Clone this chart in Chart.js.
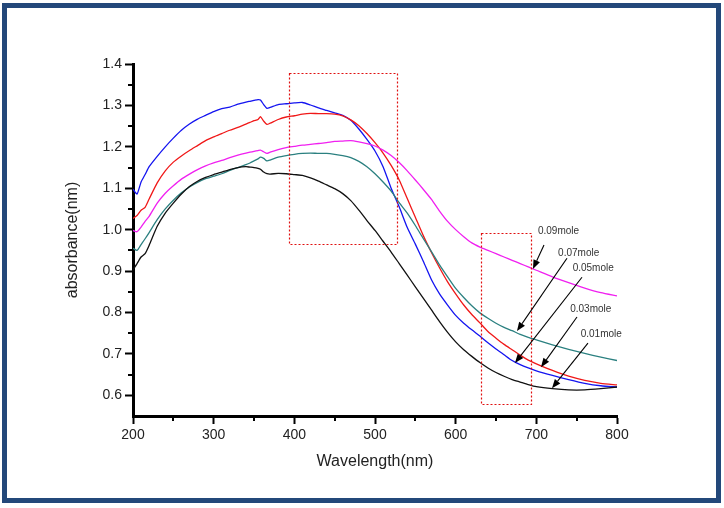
<!DOCTYPE html>
<html><head><meta charset="utf-8">
<script src="https://cdn.jsdelivr.net/npm/chart.js@4/dist/chart.umd.min.js"></script>
<style>
html,body{margin:0;padding:0;background:#fff;}
#wrap{position:relative;width:724px;height:508px;overflow:hidden;}
#frame{position:absolute;left:2px;top:3px;width:719px;height:500px;box-sizing:border-box;border:5px solid #23487a;pointer-events:none;}
canvas{position:absolute;left:0;top:0;}
</style></head><body>
<div id="wrap"><canvas id="c" width="724" height="508"></canvas><div id="frame"></div></div>
<script>
// ---- data ----
const wavelengths = [200,205,210,215,220,230,240,250,260,270,280,290,300,310,320,330,340,345,350,355,358,362,366,
  370,380,390,400,410,420,430,440,450,460,470,480,490,500,510,520,530,540,550,560,570,580,590,600,610,620,630,640,650,660,670,680,690,700,
  720,740,760,780,800];
const mole005 = [1.098,1.086,1.115,1.133,1.152,1.177,1.200,1.221,1.240,1.255,1.267,1.276,1.285,1.292,1.296,1.303,1.308,1.310,1.312,1.314,1.313,1.302,1.293,
  1.295,1.302,1.304,1.306,1.307,1.301,1.294,1.288,1.282,1.276,
  1.264,1.243,1.218,1.190,1.152,1.100,1.055,1.005,0.965,0.923,
  0.879,0.845,0.818,0.793,0.774,0.758,0.743,0.727,0.712,0.698,
  0.684,0.674,0.666,0.659,
  0.648,0.638,0.629,0.623,0.620];
const mole003 = [1.027,1.034,1.047,1.054,1.074,1.113,1.142,1.163,1.178,1.191,1.203,1.215,1.224,1.232,1.240,1.247,1.255,1.259,1.263,1.266,1.273,1.262,1.254,
  1.257,1.266,1.272,1.275,1.279,1.281,1.280,1.280,1.279,1.275,
  1.265,1.251,1.232,1.210,1.185,1.155,1.120,1.075,1.030,0.985,
  0.945,0.908,0.874,0.845,0.818,0.795,0.775,0.754,0.738,0.723,
  0.710,0.697,0.685,0.676,
  0.660,0.646,0.636,0.629,0.625];
const mole009 = [0.998,0.995,1.006,1.020,1.032,1.064,1.088,1.106,1.122,1.134,1.145,1.154,1.161,1.167,1.174,1.180,1.185,1.187,1.189,1.191,1.192,1.188,1.184,
  1.187,1.193,1.198,1.201,1.204,1.206,1.208,1.210,1.213,1.214,
  1.215,1.212,1.208,1.202,1.192,1.179,1.162,1.142,1.120,1.097,
  1.073,1.045,1.020,1.000,0.983,0.968,0.958,0.950,0.942,0.934,
  0.926,0.918,0.910,0.902,
  0.886,0.872,0.859,0.848,0.840];
const mole007 = [0.955,0.950,0.964,0.978,0.993,1.024,1.050,1.071,1.089,1.103,1.114,1.123,1.129,1.135,1.143,1.150,1.157,1.161,1.166,1.171,1.175,1.172,1.166,
  1.168,1.175,1.179,1.182,1.184,1.185,1.184,1.184,1.182,1.179,
  1.174,1.165,1.152,1.135,1.115,1.093,1.065,1.040,1.010,0.978,
  0.947,0.915,0.886,0.858,0.836,0.816,0.799,0.786,0.774,0.764,
  0.756,0.747,0.740,0.734,
  0.722,0.711,0.701,0.692,0.684];
const mole001 = [0.903,0.918,0.934,0.942,0.962,1.008,1.040,1.064,1.086,1.104,1.117,1.126,1.133,1.139,1.145,1.150,1.152,1.151,1.150,1.148,1.146,1.139,1.135,
  1.134,1.136,1.135,1.133,1.131,1.125,1.117,1.108,1.099,1.087,
  1.070,1.047,1.022,0.998,0.972,0.946,0.918,0.890,0.862,0.834,
  0.806,0.778,0.752,0.729,0.710,0.694,0.679,0.666,0.655,0.646,
  0.638,0.632,0.626,0.621,
  0.616,0.613,0.613,0.616,0.620];

const xTickValues = [200,300,400,500,600,700,800];
const yTickValues = [0.6,0.7,0.8,0.9,1.0,1.1,1.2,1.3,1.4];
const xMinorTicks = [250,350,450,550,650,750];
const yMinorTicks = [0.65,0.75,0.85,0.95,1.05,1.15,1.25,1.35];

// dotted highlight boxes (data coordinates)
const boxX0 = [393,631];
const boxX1 = [527,693];
const boxYLow = [0.965,0.579];
const boxYHigh = [1.378,0.992];

// arrow annotations (data coordinates)
const annoLabels = ['0.09mole','0.07mole','0.05mole','0.03mole','0.01mole'];
const annoTextX = [702,727,745,742,755];
const annoTextY = [0.997,0.943,0.907,0.808,0.748];
const arrowFromX = [709.5,738,756.6,750.4,764];
const arrowFromY = [0.963,0.931,0.885,0.789,0.726];
const arrowToX = [695.8,676,673.5,705.8,719.4];
const arrowToY = [0.905,0.755,0.678,0.668,0.617];

// ---- build ----
const pts = arr => wavelengths.map((w,i)=>({x:w,y:arr[i]}));
const FONT = '"Liberation Sans", Arial, sans-serif';

const overlay = {
  id:'overlay',
  afterDatasetsDraw(chart){
    const {ctx, scales:{x,y}} = chart;
    ctx.save();
    ctx.strokeStyle = '#e01010';
    ctx.lineWidth = 1.2;
    ctx.setLineDash([2,2]);
    for (let i=0;i<boxX0.length;i++){
      const x0 = Math.round(x.getPixelForValue(boxX0[i]))+0.5;
      const x1 = Math.round(x.getPixelForValue(boxX1[i]))+0.5;
      const y0 = Math.round(y.getPixelForValue(boxYHigh[i]))+0.5;
      const y1 = Math.round(y.getPixelForValue(boxYLow[i]))+0.5;
      ctx.strokeRect(x0,y0,x1-x0,y1-y0);
    }
    ctx.setLineDash([]);
    ctx.strokeStyle = '#000';
    ctx.fillStyle = '#000';
    for (let i=0;i<annoLabels.length;i++){
      const fx = x.getPixelForValue(arrowFromX[i]), fy = y.getPixelForValue(arrowFromY[i]);
      const tx = x.getPixelForValue(arrowToX[i]), ty = y.getPixelForValue(arrowToY[i]);
      const ang = Math.atan2(ty-fy, tx-fx);
      const L = 9, W = 3.5;
      const bx = tx - L*Math.cos(ang), by = ty - L*Math.sin(ang);
      ctx.lineWidth = 1.1;
      ctx.beginPath(); ctx.moveTo(fx,fy); ctx.lineTo(bx,by); ctx.stroke();
      ctx.beginPath();
      ctx.moveTo(tx,ty);
      ctx.lineTo(bx + W*Math.sin(ang), by - W*Math.cos(ang));
      ctx.lineTo(bx - W*Math.sin(ang), by + W*Math.cos(ang));
      ctx.closePath(); ctx.fill();
    }
    ctx.fillStyle = '#333';
    ctx.font = '10px ' + FONT;
    ctx.textAlign = 'left';
    ctx.textBaseline = 'middle';
    for (let i=0;i<annoLabels.length;i++){
      ctx.fillText(annoLabels[i], x.getPixelForValue(annoTextX[i]), y.getPixelForValue(annoTextY[i]));
    }
    ctx.restore();
  },
  afterDraw(chart){
    const {ctx, scales:{x,y}, chartArea} = chart;
    ctx.save();
    ctx.strokeStyle = '#000';
    ctx.lineWidth = 2;
    yMinorTicks.forEach(v=>{
      const py = Math.round(y.getPixelForValue(v));
      ctx.beginPath(); ctx.moveTo(chartArea.left-5, py); ctx.lineTo(chartArea.left, py); ctx.stroke();
    });
    xMinorTicks.forEach(v=>{
      const px = Math.round(x.getPixelForValue(v));
      ctx.beginPath(); ctx.moveTo(px, chartArea.bottom); ctx.lineTo(px, chartArea.bottom+5); ctx.stroke();
    });
    ctx.restore();
  }
};

const ds = (label, arr, color) => ({label, data: pts(arr), borderColor: color, backgroundColor: color,
  borderWidth: 1.3, pointRadius: 0, tension: 0.2, fill: false});

new Chart(document.getElementById('c'), {
  type: 'line',
  data: { datasets: [
    ds('0.01mole', mole001, '#111111'),
    ds('0.07mole', mole007, '#2b8080'),
    ds('0.09mole', mole009, '#f020f0'),
    ds('0.03mole', mole003, '#f01818'),
    ds('0.05mole', mole005, '#1414f0')
  ]},
  options: {
    responsive: false,
    devicePixelRatio: 1,
    animation: false,
    layout: { padding: { top: 64, right: 107, left: 0, bottom: 0 } },
    plugins: { legend: { display: false }, tooltip: { enabled: false } },
    scales: {
      x: {
        type: 'linear', min: 200, max: 800,
        afterBuildTicks: s => { s.ticks = xTickValues.map(v=>({value:v})); },
        afterFit: s => { s.height = 92; },
        grid: { drawOnChartArea: false, drawTicks: true, tickLength: 8, tickWidth: 2, tickColor: '#000' },
        border: { display: true, width: 3, color: '#000' },
        ticks: { font: { family: FONT, size: 14 }, color: '#222', padding: 3, maxRotation: 0, callback: v => String(v) },
        title: { display: true, text: 'Wavelength(nm)', font: { family: FONT, size: 16 }, color: '#222', padding: { top: 0, bottom: 37 } }
      },
      y: {
        type: 'linear', min: 0.55, max: 1.4,
        afterBuildTicks: s => { s.ticks = yTickValues.map(v=>({value:v})); },
        afterFit: s => { s.width = 133; },
        grid: { drawOnChartArea: false, drawTicks: true, tickLength: 8, tickWidth: 2, tickColor: '#000' },
        border: { display: true, width: 3, color: '#000' },
        ticks: { font: { family: FONT, size: 14 }, color: '#222', padding: 3, callback: v => Number(v).toFixed(1) },
        title: { display: true, text: 'absorbance(nm)', font: { family: FONT, size: 16 }, color: '#222', padding: { top: 63, bottom: 0 } }
      }
    }
  },
  plugins: [overlay]
});
</script>
</body></html>
